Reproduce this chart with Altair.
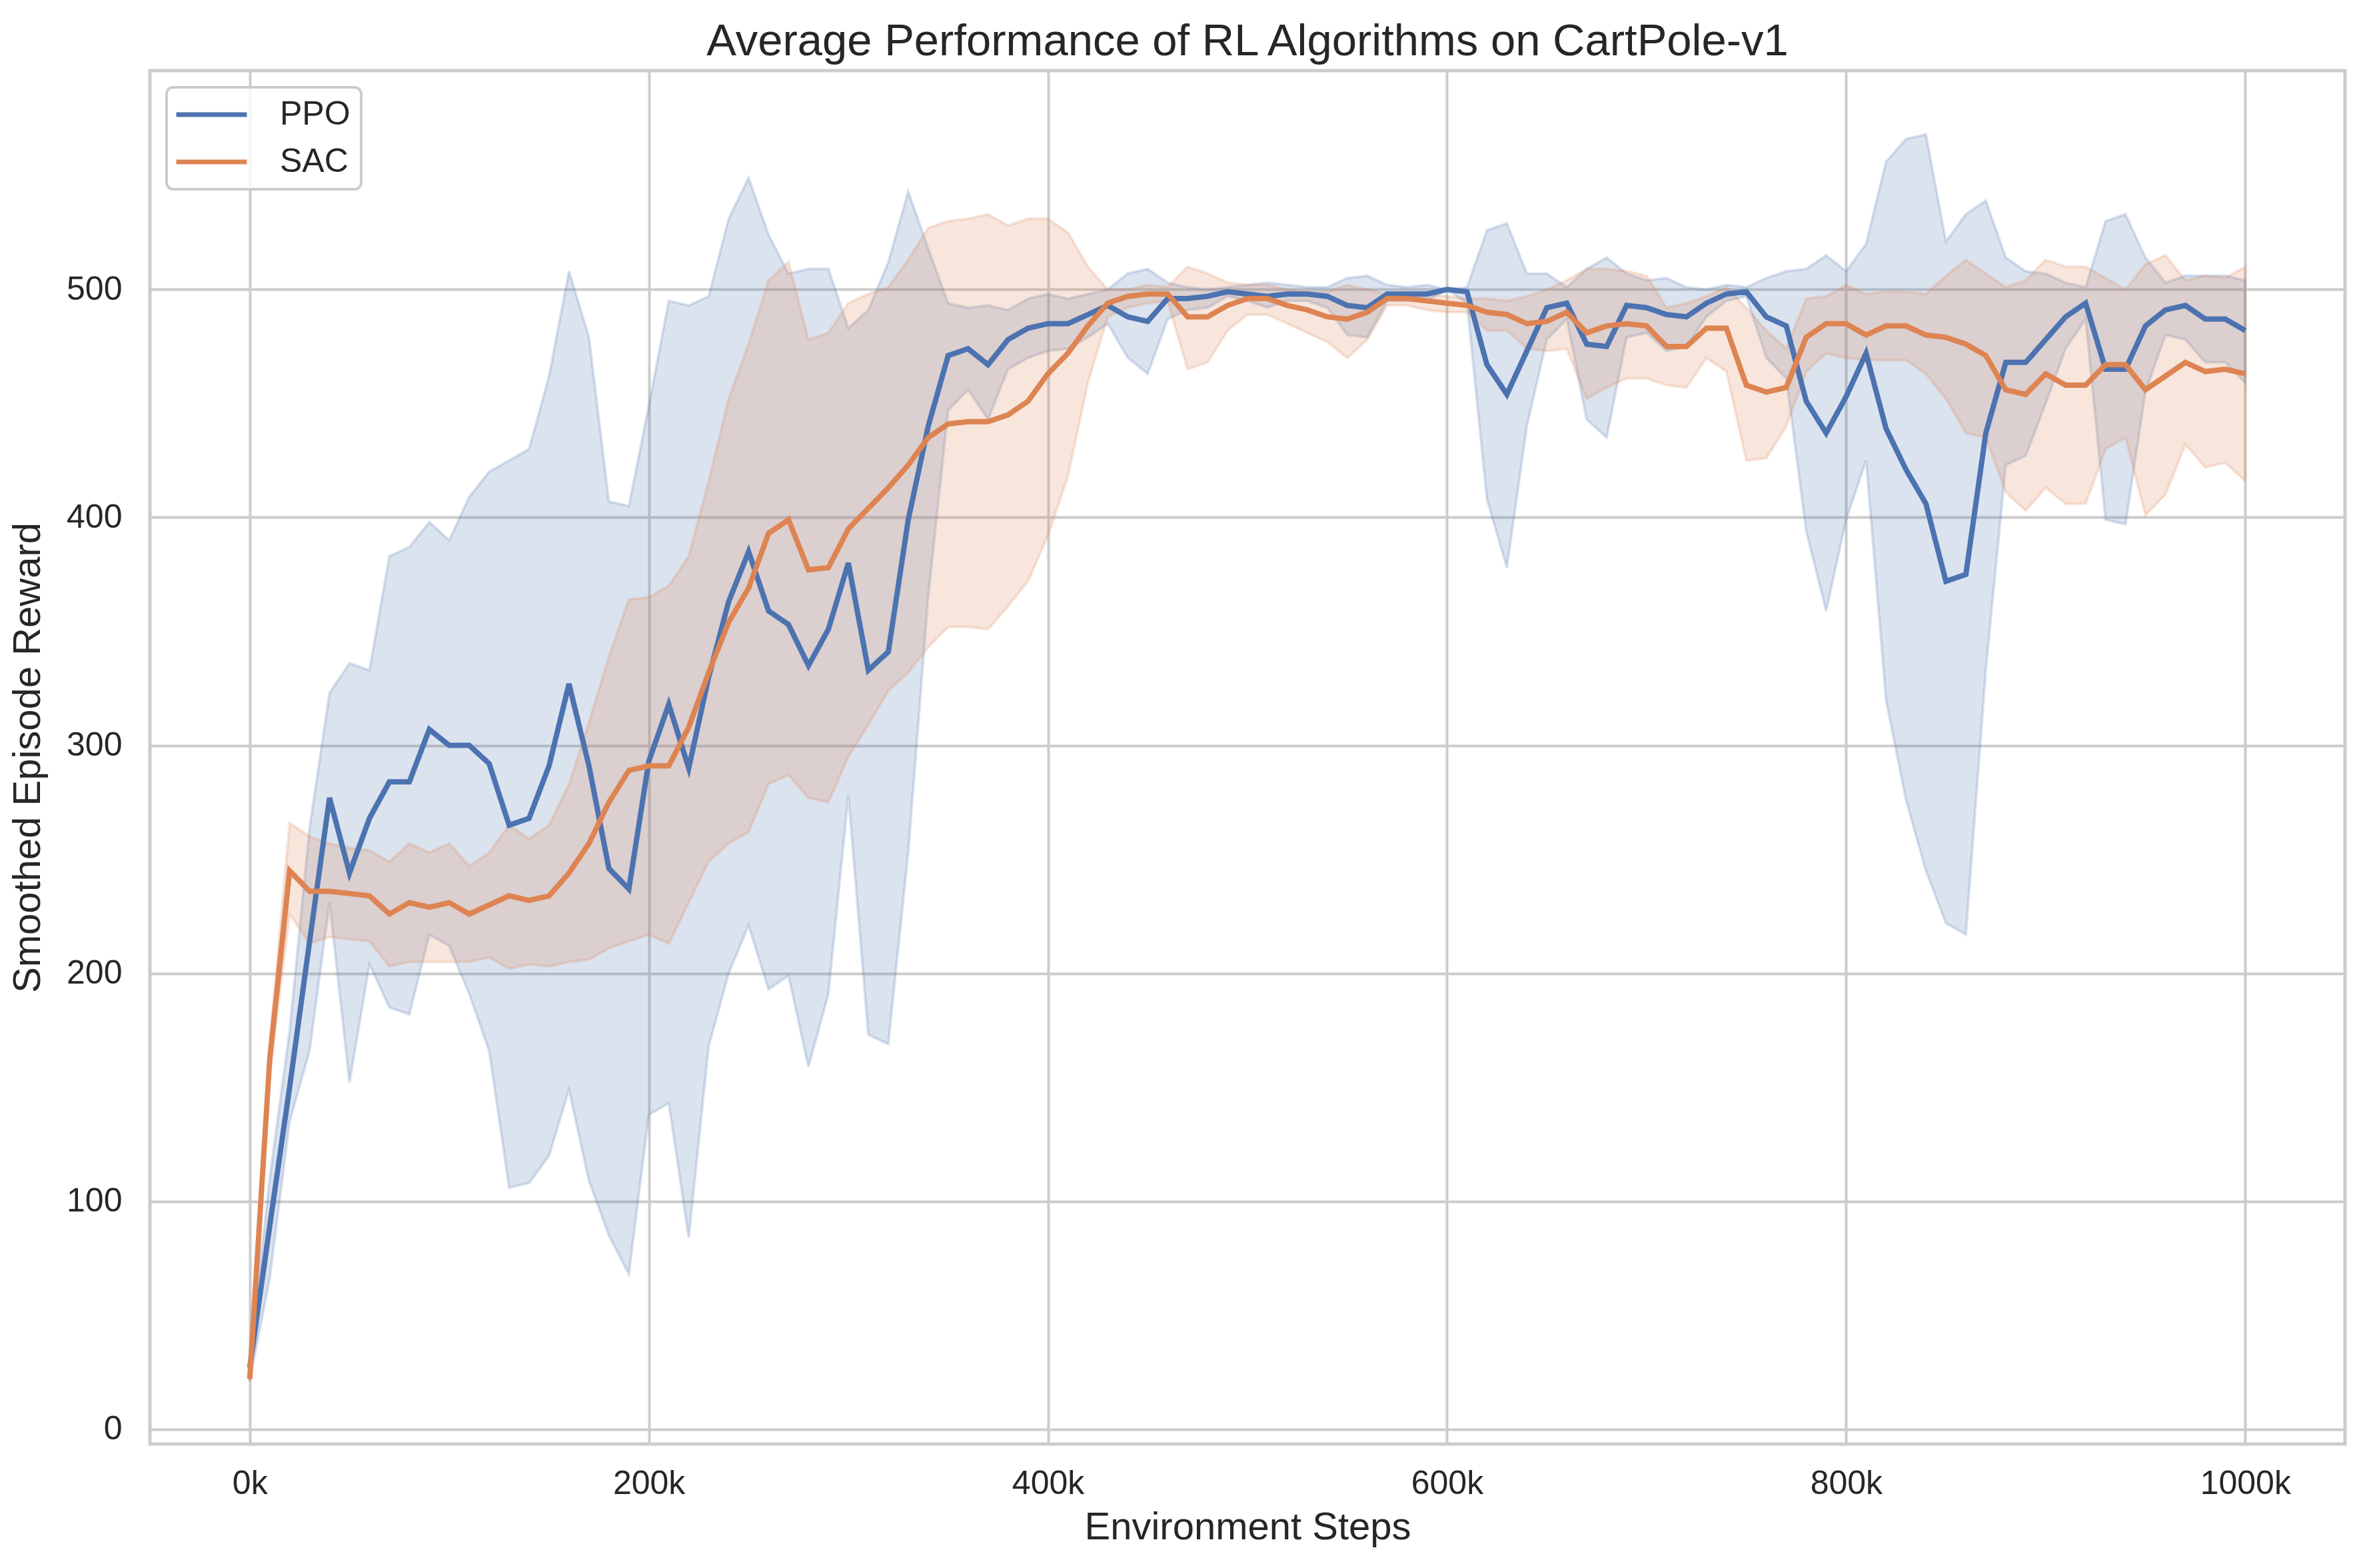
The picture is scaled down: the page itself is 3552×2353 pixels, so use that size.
import altair as alt
import pandas as pd

# %%
# x positions: one reading every 10k environment steps
steps = list(range(0, 1000001, 10000))

ppo_mean = [27, 89, 150, 214, 277, 244, 268, 284, 284, 307,
            300, 300, 292, 265, 268, 291, 327, 291, 246, 237,
            293, 318, 290, 330, 363, 385, 359, 353, 335, 351,
            380, 333, 341, 399, 440, 471, 474, 467, 478, 483,
            485, 485, 489, 493, 488, 486, 496, 496, 497, 499,
            498, 497, 498, 498, 497, 493, 492, 498, 498, 498,
            500, 499, 467, 454, 473, 492, 494, 476, 475, 493,
            492, 489, 488, 494, 498, 499, 488, 484, 451, 437,
            453, 472, 439, 421, 406, 372, 375, 437, 468, 468,
            478, 488, 494, 465, 465, 484, 491, 493, 487, 487,
            482]
ppo_high = [30, 110, 175, 264, 323, 336, 333, 383, 387, 398,
            390, 409, 420, 425, 430, 462, 508, 479, 407, 405,
            449, 495, 493, 497, 531, 549, 524, 507, 509, 509,
            483, 491, 512, 543, 518, 494, 492, 493, 491, 496,
            498, 496, 498, 500, 507, 509, 503, 501, 500, 501,
            502, 503, 502, 501, 501, 505, 506, 502, 501, 502,
            500, 501, 526, 529, 507, 507, 501, 509, 514, 507,
            504, 505, 501, 500, 502, 501, 505, 508, 509, 515,
            508, 520, 556, 566, 568, 521, 533, 539, 514, 508,
            507, 503, 501, 530, 533, 514, 503, 506, 506, 506,
            504]
ppo_low = [21, 66, 135, 166, 231, 152, 204, 185, 182, 217,
           212, 191, 166, 106, 108, 120, 149, 109, 85, 68,
           138, 143, 84, 168, 200, 221, 193, 199, 159, 191,
           278, 173, 169, 253, 365, 447, 456, 443, 465, 470,
           473, 474, 479, 485, 470, 463, 487, 491, 492, 497,
           495, 492, 495, 495, 492, 480, 479, 495, 495, 495,
           500, 494, 408, 378, 440, 478, 487, 443, 435, 479,
           481, 473, 475, 488, 495, 497, 470, 461, 394, 359,
           399, 425, 320, 276, 245, 222, 217, 333, 423, 427,
           450, 474, 487, 399, 397, 455, 480, 478, 468, 468,
           459]

sac_mean = [22, 162, 245, 236, 236, 235, 234, 226, 231, 229,
            231, 226, 230, 234, 232, 234, 244, 257, 275, 289,
            291, 291, 308, 332, 354, 369, 393, 399, 377, 378,
            395, 404, 413, 423, 435, 441, 442, 442, 445, 451,
            463, 472, 484, 494, 497, 498, 498, 488, 488, 493,
            496, 496, 493, 491, 488, 487, 490, 496, 496, 495,
            494, 493, 490, 489, 485, 486, 490, 481, 484, 485,
            484, 475, 475, 483, 483, 458, 455, 457, 479, 485,
            485, 480, 484, 484, 480, 479, 476, 471, 456, 454,
            463, 458, 458, 467, 467, 456, 462, 468, 464, 465,
            463]
sac_high = [23, 170, 266, 260, 257, 255, 254, 249, 257, 253,
            257, 247, 253, 265, 259, 265, 283, 310, 339, 364,
            365, 370, 383, 416, 452, 476, 504, 512, 478, 481,
            494, 498, 501, 513, 527, 530, 531, 533, 528, 531,
            531, 525, 510, 500, 500, 502, 501, 510, 507, 503,
            502, 502, 500, 499, 499, 502, 500, 498, 498, 498,
            497, 496, 496, 495, 497, 500, 504, 509, 509, 508,
            506, 492, 494, 497, 501, 492, 482, 474, 496, 497,
            502, 498, 499, 499, 498, 506, 513, 507, 501, 504,
            513, 510, 510, 505, 500, 511, 515, 504, 506, 505,
            510]
sac_low = [21, 155, 226, 213, 216, 215, 214, 203, 205, 205,
           205, 205, 207, 202, 204, 203, 205, 206, 211, 214,
           217, 213, 231, 249, 257, 262, 283, 287, 277, 275,
           295, 309, 324, 332, 343, 352, 352, 351, 361, 372,
           392, 418, 459, 488, 492, 494, 495, 465, 468, 482,
           489, 489, 485, 481, 477, 470, 478, 493, 493, 491,
           490, 490, 482, 482, 474, 473, 474, 452, 457, 461,
           461, 458, 457, 470, 464, 425, 426, 440, 464, 472,
           470, 469, 469, 469, 463, 452, 437, 435, 411, 403,
           413, 406, 406, 430, 435, 401, 410, 432, 422, 424,
           416]

algos = ["PPO", "SAC"]
colors = ["#4c72b0", "#dd8452"]
x_ticks = [0, 200000, 400000, 600000, 800000, 1000000]
y_ticks = [0, 100, 200, 300, 400, 500]

# %%
rows = []
for algo, mean, low, high in [("PPO", ppo_mean, ppo_low, ppo_high),
                              ("SAC", sac_mean, sac_low, sac_high)]:
    for s, m, lo, hi in zip(steps, mean, low, high):
        rows.append({"step": s, "algo": algo, "band": algo + " band",
                     "reward": m, "low": lo, "high": hi})
df = pd.DataFrame(rows)

FONT = "Liberation Sans"
INK = "#262626"
band_names = [a + " band" for a in algos]

x_enc = alt.X(
    "step:Q",
    scale=alt.Scale(domain=[-50000, 1050000], nice=False, zero=False),
    axis=alt.Axis(values=x_ticks, labelExpr="format(datum.value / 1000, 'd') + 'k'",
                  title="Environment Steps", labelPadding=34, titlePadding=12,
                  labelFlush=False),
)
y_scale = alt.Scale(domain=[-6.5, 596], nice=False, zero=False)

# bands use their own field so their (hidden) legend does not swallow the line legend
bands = (
    alt.Chart(df)
    .mark_area(fillOpacity=0.2, strokeOpacity=0.2, strokeWidth=4)
    .encode(
        x=x_enc,
        y=alt.Y("low:Q", scale=y_scale),
        y2="high:Q",
        fill=alt.Fill("band:N", scale=alt.Scale(domain=band_names, range=colors), legend=None),
        stroke=alt.Stroke("band:N", scale=alt.Scale(domain=band_names, range=colors), legend=None),
    )
)

lines = (
    alt.Chart(df)
    .mark_line(strokeWidth=8)
    .encode(
        x=x_enc,
        y=alt.Y("reward:Q", scale=y_scale,
                axis=alt.Axis(values=y_ticks, title="Smoothed Episode Reward",
                              labelPadding=42, titlePadding=28)),
        color=alt.Color(
            "algo:N",
            scale=alt.Scale(domain=algos, range=colors),
            legend=alt.Legend(
                title=None, orient="none", legendX=25, legendY=25,
                symbolType="M-2,0L6,0", symbolSize=702, symbolStrokeWidth=7,
                labelFontSize=50, labelFont=FONT, labelColor=INK,
                labelOffset=104, rowPadding=21, padding=16,
                fillColor="rgba(255,255,255,0.8)", strokeColor="#cccccc",
                cornerRadius=10,
            ),
        ),
    )
)

chart = (
    alt.layer(bands, lines)
    .properties(
        width=3294,
        height=2061,
        padding={"left": 5, "top": 21, "right": 20, "bottom": 10},
        title=alt.TitleParams(
            "Average Performance of RL Algorithms on CartPole-v1",
            fontSize=67, font=FONT, fontWeight="normal", color=INK,
            offset=9,
        ),
    )
    .configure_view(stroke="#cccccc", strokeWidth=5)
    .configure_axis(
        grid=True, gridColor="#cccccc", gridWidth=4, domain=False, ticks=False,
        labelFont=FONT, titleFont=FONT, labelFontSize=50, titleFontSize=58,
        labelColor=INK, titleColor=INK, titleFontWeight="normal",
    )
    .configure_legend(strokeWidth=4)
)

chart.save("out.html", embed_options={"renderer": "svg", "actions": False})
